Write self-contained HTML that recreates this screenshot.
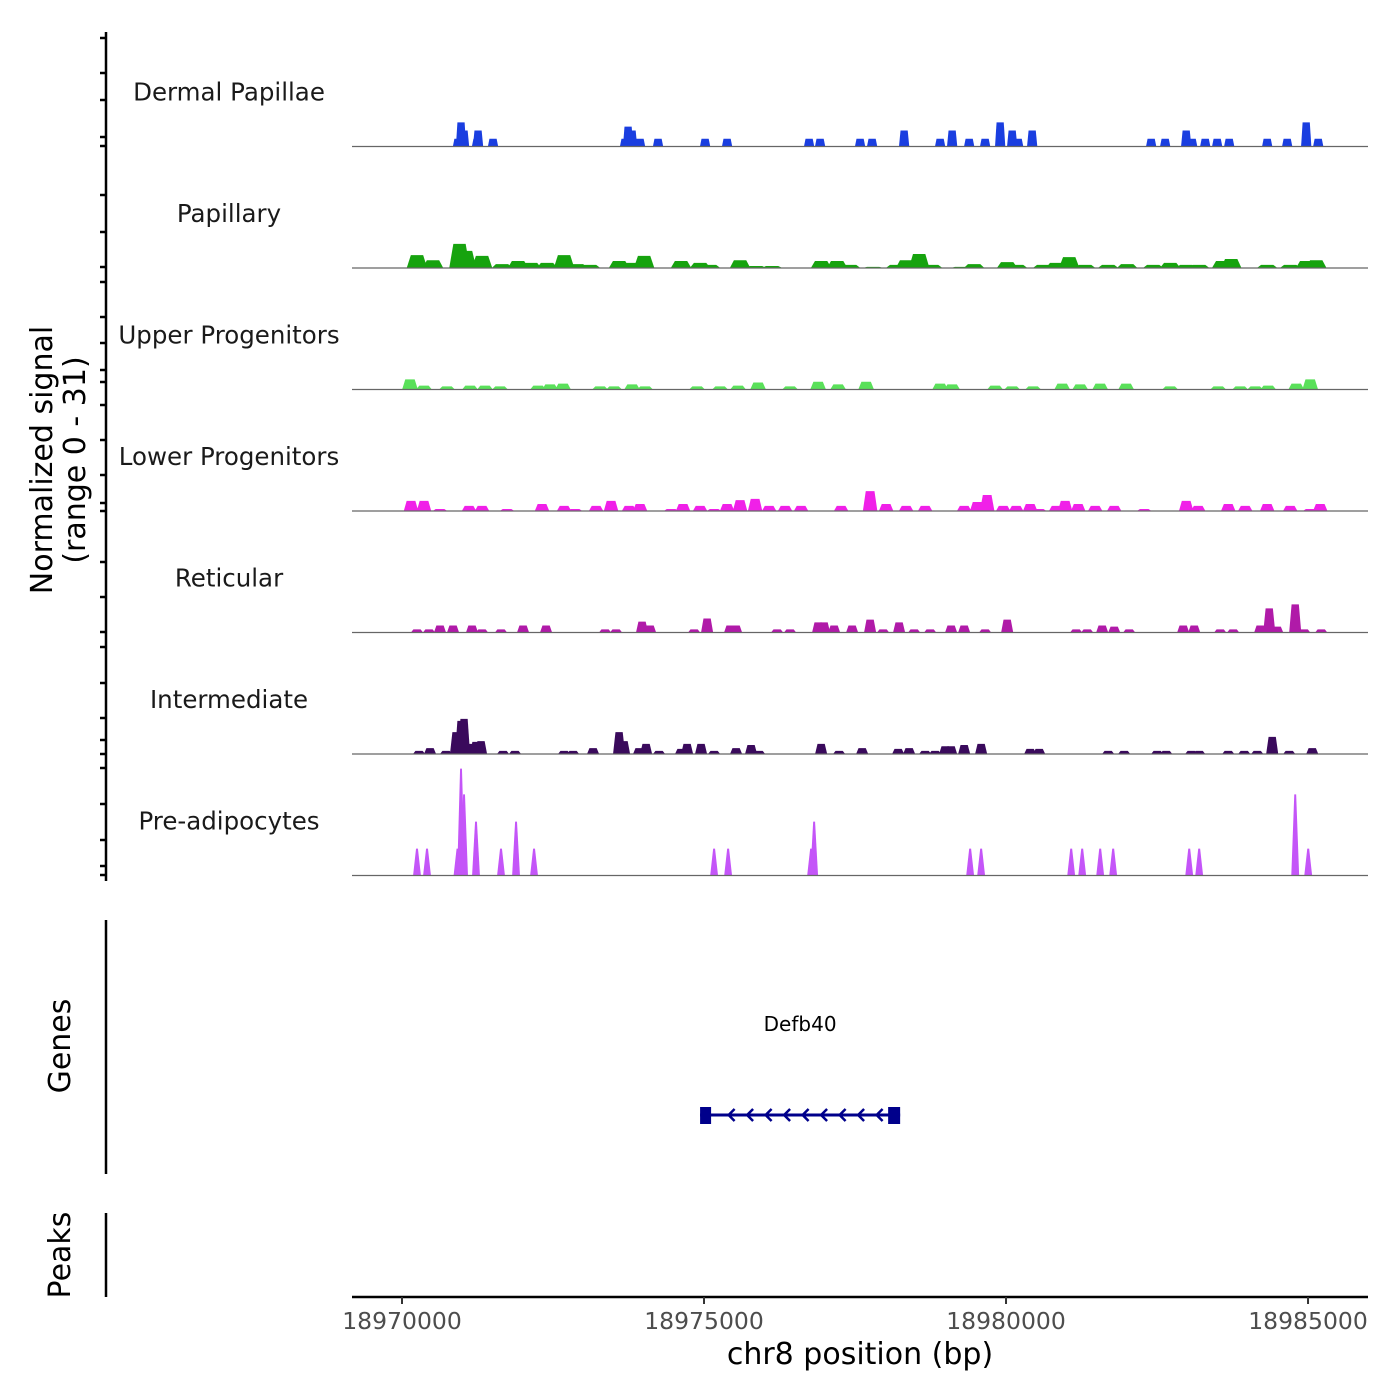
<!DOCTYPE html>
<html><head><meta charset="utf-8"><style>
html,body{margin:0;padding:0;background:#fff}
svg{display:block;font-family:"DejaVu Sans","Liberation Sans",sans-serif}
</style></head><body>
<svg id="chart" width="1400" height="1400" viewBox="0 0 1400 1400" xmlns="http://www.w3.org/2000/svg">
<g id="tracks"></g>
<g id="leftaxis"></g>
<text transform="translate(52,460) rotate(-90)" text-anchor="middle" font-size="30" fill="#000">Normalized signal</text>
<text transform="translate(85,460) rotate(-90)" text-anchor="middle" font-size="30" fill="#000">(range 0 - 31)</text>
<line x1="106" y1="920" x2="106" y2="1174" stroke="#000" stroke-width="2.5"/>
<text transform="translate(70,1046) rotate(-90)" text-anchor="middle" font-size="30" fill="#000">Genes</text>
<line x1="106" y1="1213" x2="106" y2="1297" stroke="#000" stroke-width="2.5"/>
<text transform="translate(70,1255) rotate(-90)" text-anchor="middle" font-size="30" fill="#000">Peaks</text>
<g id="gene"></g>
<g id="xaxis"></g>
<text x="860" y="1364" text-anchor="middle" font-size="30" fill="#000">chr8 position (bp)</text>
</svg>
<script>
const NS="http://www.w3.org/2000/svg";
// ---- data ----
const regionStart=18969172, regionEnd=18985993;
const xTicks=[18970000,18975000,18980000,18985000];
const trackNames=["Dermal Papillae","Papillary","Upper Progenitors","Lower Progenitors","Reticular","Intermediate","Pre-adipocytes"];
const trackColors=["#1a3ee0","#16a30e","#5ae05a","#f020e8","#b01aa8","#3a0a5c","#c455f8"];
const base=18970000;
const dpPos=[927,977,1027,1242,1259,1507,3693,3743,3809,3941,4239,5018,5382,6740,6922,7584,7783,8313,8909,9108,9390,9654,9903,10102,10201,10433,12403,12635,12983,13082,13298,13496,13695,14324,14655,14970,15169];
const dpVal=[2,6.2,4.1,2,4.1,2,2,5.1,4.1,2,2,2,2,2,2,2,2,4.1,2,4.1,2,2,6.2,4.1,2,4.1,2,2,4.1,2,2,2,2,2,2,6.2,2];
const paPos=[248,513,952,1060,1325,1656,1921,2136,2401,2683,2898,3113,3594,3809,4008,4620,4935,5100,5597,5862,6127,6939,7204,7419,7800,8181,8346,8562,8777,9257,9472,10019,10184,10615,10830,11046,11310,11691,12006,12437,12718,12983,13198,13579,13728,14324,14705,14970,15136];
const paVal=[3.3,2,6.2,4.4,3.1,1,1.8,1.3,1.3,3.3,1,0.8,1.8,1.3,3.1,1.8,1.3,0.8,2,0.5,0.5,1.8,1.8,0.8,0.3,0.8,2,3.6,0.8,0.3,1,1.5,0.8,0.8,1.3,2.8,0.8,0.8,1,0.8,1.3,0.8,0.8,1.8,2.3,0.8,0.8,1.8,2];
const upPos=[132,364,745,1126,1374,1623,2252,2451,2666,3279,3511,3809,4024,4885,5266,5564,5895,6425,6889,7220,7684,8909,9108,9820,10102,10449,10930,11228,11559,11989,12718,13513,13877,14126,14341,14805,15036];
const upVal=[2.6,1,0.8,1,1,0.8,1,1.3,1.5,0.8,0.8,1.3,0.8,0.8,0.8,1,1.8,0.8,2,1.3,2,1.5,1.3,1,0.8,0.8,1.5,1.3,1.5,1.5,0.8,0.8,0.8,0.8,1,1.5,2.6];
const loPos=[149,364,629,1110,1325,1739,2318,2683,2865,3213,3461,3759,3941,4455,4653,4935,5167,5382,5597,5846,6078,6342,6607,7270,7750,8015,8346,8661,9307,9522,9688,9953,10168,10400,10549,10830,10979,11195,11476,11791,12288,12983,13182,13679,13960,14324,14705,15036,15202];
const loVal=[2.6,2.6,0.5,1.3,1.3,0.5,1.8,1.3,0.5,1.3,2.6,1.3,1.8,0.5,1.8,1.3,0.5,1.8,2.8,3.1,1.3,1.3,1.3,1.3,5.1,1.8,1.3,1.3,1.3,2.3,4.1,1.3,1.3,1.8,0.5,1.3,2.6,1.8,1.3,1.3,0.5,2.6,1.3,1.8,1.3,1.8,1.3,0.5,1.8];
const rePos=[248,447,629,845,1159,1325,1639,2004,2385,3362,3544,3974,4107,4836,5051,5432,5531,6210,6425,6889,6988,7154,7452,7750,7965,8230,8479,8744,9091,9307,9654,10019,11161,11344,11592,11791,12039,12933,13116,13546,13761,14208,14358,14490,14788,14937,15219];
const reVal=[0.8,0.8,1.8,1.8,1.8,0.8,0.8,1.8,1.8,0.8,0.8,2.8,1.8,0.8,3.6,1.8,1.8,0.8,0.8,2.6,2.6,1.8,1.8,3.3,0.8,2.6,0.8,0.8,1.8,1.8,0.8,3.3,0.8,0.8,1.8,1.5,0.8,1.8,1.8,0.8,0.8,1.8,6.2,1.5,7.2,0.8,0.8];
const inPos=[282,464,729,894,977,1027,1110,1225,1308,1673,1871,2683,2832,3163,3594,3676,3925,4041,4256,4620,4720,4951,5167,5531,5779,5912,6939,7237,7618,8214,8396,8661,8826,8992,9091,9307,9588,10400,10549,11691,11956,12503,12652,13066,13198,13679,13944,14159,14407,14689,15070];
const inVal=[0.8,1.5,0.8,5.6,8.5,9,2.6,3.1,3.3,0.8,0.8,0.8,0.8,1.5,5.6,3.3,1.5,2.6,0.8,1.3,2.6,2.6,0.8,1.5,2.3,0.8,2.6,0.8,1.5,1.3,1.5,0.8,0.8,2,2,2.3,2.6,1.3,1.3,0.8,0.8,0.8,0.8,0.8,0.8,0.8,0.8,0.8,4.4,0.8,1.5];
const prPos=[248,414,919,977,1027,1225,1639,1888,2186,5167,5399,6773,6823,9406,9588,11079,11261,11559,11774,13033,13198,14788,15003];
const prVal=[6.9,6.9,6.9,27.4,20.8,13.8,6.9,13.8,6.9,6.9,6.9,6.9,13.8,6.9,6.9,6.9,6.9,6.9,6.9,6.9,6.9,20.8,6.9];
const trackPos=[dpPos,paPos,upPos,loPos,rePos,inPos,prPos];
const trackVal=[dpVal,paVal,upVal,loVal,reVal,inVal,prVal];
const geneStart=18974935, geneEnd=18978247;
// ---- scales ----
const X0=352,X1=1368;
function x(bp){return X0+(bp-regionStart)/(regionEnd-regionStart)*(X1-X0);}
const trackTop=25, trackH=121.5, unitPx=3.9;
function yBase(i){return trackTop+(i+1)*trackH;}
function y(i,v){return yBase(i)-v*unitPx;}
const peakWidths=[170,340,260,240,200,200,130];
const topFrac=[0.35,0.3,0.3,0.3,0.3,0.3,0.12];
function el(tag,attrs,parent){const e=document.createElementNS(NS,tag);for(const k in attrs)e.setAttribute(k,attrs[k]);parent.appendChild(e);return e;}

const tracks=document.getElementById('tracks');
trackNames.forEach((name,i)=>{
  const g=el('g',{},tracks);
  
  
  const t=el('text',{x:229,y:yBase(i)-46,'text-anchor':'middle','font-size':'24.5',fill:'#1a1a1a'},g);
  t.textContent=name;
  
  
  const pos=trackPos[i], val=trackVal[i], w=peakWidths[i], tf=topFrac[i];
  pos.forEach((p,j)=>{
    const c=base+p, v=val[j];
    const x0=x(c-w/2), x1=x(c+w/2), xa=x(c-w*tf), xb=x(c+w*tf);
    const pth=el('path',{d:`M${x0},${yBase(i)} L${xa},${y(i,v)} L${xb},${y(i,v)} L${x1},${yBase(i)} Z`,fill:trackColors[i]},g);
    
    
  });
  const bl=el('line',{x1:X0,x2:X1,y1:yBase(i),y2:yBase(i),stroke:'#666','stroke-width':1.2},g);
  
  
});

const la=document.getElementById('leftaxis');
el('line',{x1:106,x2:106,y1:32,y2:881,stroke:'#000','stroke-width':2.5},la);
const tickYs=[38,73,100,137,146,195,232,267,282,317,343,370,382,405,440,475,503,511,562,597,632,647,683,718,740,754,768,804,840,866,875];
tickYs.forEach(ty=>{const tk=el('line',{x1:100,x2:106,y1:ty,y2:ty,stroke:'#000','stroke-width':2.5},la);
  
  });

const xa=document.getElementById('xaxis');
el('line',{x1:X0,x2:X1,y1:1297,y2:1297,stroke:'#000','stroke-width':2.5},xa);
xTicks.forEach(v=>{
  const tk=el('line',{x1:x(v),x2:x(v),y1:1297,y2:1304,stroke:'#333','stroke-width':2},xa);
  
  
  const t=el('text',{x:x(v),y:1329,'text-anchor':'middle','font-size':'23.5',fill:'#4d4d4d'},xa);
  t.textContent=String(v);
  
  
});

const gg=document.getElementById('gene');
const gx0=x(geneStart), gx1=x(geneEnd), gy=1115;
const gl=el('text',{x:(gx0+gx1)/2,y:1031,'text-anchor':'middle','font-size':'20',fill:'#000'},gg);
gl.textContent='Defb40';


el('line',{x1:gx0,x2:gx1,y1:gy,y2:gy,stroke:'#00008b','stroke-width':3},gg);
el('rect',{x:gx0,y:gy-8,width:11,height:17,fill:'#00008b'},gg);
el('rect',{x:gx1-12,y:gy-8,width:12,height:17,fill:'#00008b'},gg);
for(let k=1;k<=9;k++){const ax=gx0+10+k*18.5;
  el('path',{d:`M${ax+6},${gy-6} L${ax},${gy} L${ax+6},${gy+6}`,fill:'none',stroke:'#00008b','stroke-width':2.5},gg);}
</script>
</body></html>
